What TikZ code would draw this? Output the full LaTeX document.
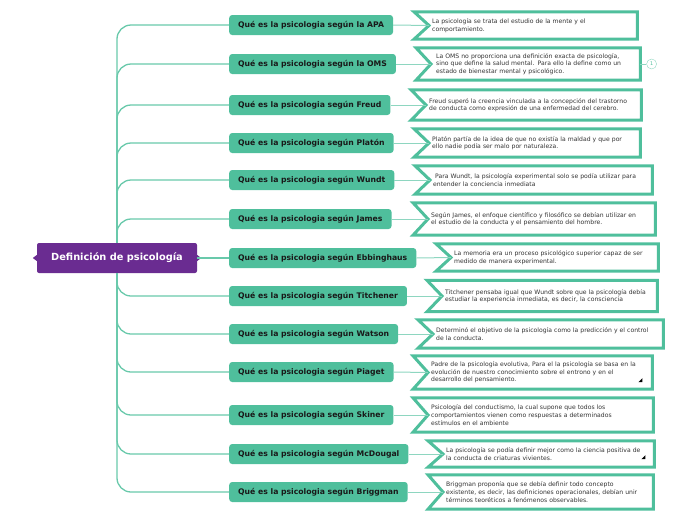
\documentclass[tikz,border=0pt]{standalone}
\usepackage{fontspec}
\setmainfont{DejaVu Sans}
\usetikzlibrary{positioning}

\definecolor{mapteal}{HTML}{4FBF9C}
\definecolor{maplink}{HTML}{8ED6C0}
\definecolor{mappurple}{HTML}{6A2C91}
\definecolor{maptext}{HTML}{333333}

\begin{document}
\begin{tikzpicture}[
    x=1pt, y=-1pt,
    root/.style={
        rectangle,
        rounded corners=2pt,
        fill=mappurple,
        text=white,
        minimum width=160pt,
        minimum height=30pt,
        font=\fontsize{9.8}{11}\selectfont\bfseries
    },
    topic/.style={
        rectangle,
        rounded corners=3pt,
        anchor=west,
        fill=mapteal,
        text=black!90,
        inner xsep=9pt,
        minimum height=20pt,
        font=\fontsize{7.7}{9}\selectfont\bfseries
    },
    desc/.style={
        rectangle,
        anchor=west,
        inner xsep=3pt,
        inner ysep=0pt,
        align=left,
        text=maptext,
        font=\fontsize{6.1}{7.6}\selectfont
    },
    descline/.style={draw=mapteal, line width=3pt},
    branch/.style={draw=mapteal!85, line width=1.3pt, rounded corners=14pt},
    link/.style={draw=maplink, line width=1pt},
    badge/.style={
        circle,
        draw=maplink,
        text=mapteal,
        inner sep=0pt,
        minimum size=10pt,
        font=\fontsize{5}{6}\selectfont
    },
]
\useasboundingbox (0,0) rectangle (696,520);

% nodes
\node[root] (root) at (117,258) {Definición de psicología};

\node[topic] (t1) at (229,25) {Qué es la psicologia según la APA};
\node[topic] (t2) at (229,64) {Qué es la psicologia según la OMS};
\node[topic] (t3) at (229,105) {Qué es la psicologia según Freud};
\node[topic] (t4) at (229,143) {Qué es la psicologia según Platón};
\node[topic] (t5) at (229,180) {Qué es la psicologia según Wundt};
\node[topic] (t6) at (229,219) {Qué es la psicologia según James};
\node[topic] (t7) at (229,258) {Qué es la psicologia según Ebbinghaus};
\node[topic] (t8) at (229,296) {Qué es la psicologia según Titchener};
\node[topic] (t9) at (229,334) {Qué es la psicologia según Watson};
\node[topic] (t10) at (229,372) {Qué es la psicologia según Piaget};
\node[topic] (t11) at (229,415) {Qué es la psicologia según Skiner};
\node[topic] (t12) at (229,454) {Qué es la psicologia según McDougal};
\node[topic] (t13) at (229,492) {Qué es la psicologia según Briggman};

\node[desc, text width=202pt, minimum height=27pt] (d1) at (429,25.5)
    {La psicología se trata del estudio de la mente y el\\comportamiento.};
\node[desc, text width=203pt, minimum height=32pt] (d2) at (431,64)
    {\ La OMS no proporciona una definición exacta de psicología,\\
    \ sino que define la salud mental. Para ello la define como un\\
    \ estado de bienestar mental y psicológico.};
\node[desc, text width=209pt, minimum height=30pt] (d3) at (426,105)
    {Freud superó la creencia vinculada a la concepción del trastorno\\
    de conducta como expresión de una enfermedad del cerebro.};
\node[desc, text width=205pt, minimum height=28pt] (d4) at (429,143)
    {Platón partía de la idea de que no existía la maldad y que por\\
    ello nadie podía ser malo por naturaleza.};
\node[desc, text width=216pt, minimum height=28pt] (d5) at (430,180)
    {\ Para Wundt, la psicología experimental solo se podía utilizar para\\
    entender la conciencia inmediata};
\node[desc, text width=221pt, minimum height=32pt] (d6) at (428,219)
    {Según James, el enfoque científico y filosófico se debían utilizar en\\
    el estudio de la conducta y el pensamiento del hombre.};
\node[desc, text width=201pt, minimum height=27pt] (d7) at (451,257.5)
    {La memoria era un proceso psicológico superior capaz de ser\\
    medido de manera experimental.};
\node[desc, text width=209pt, minimum height=31pt] (d8) at (442,296)
    {Titchener pensaba igual que Wundt sobre que la psicología debía\\
    estudiar la experiencia inmediata, es decir, la consciencia};
\node[desc, text width=224pt, minimum height=28pt] (d9) at (433,334)
    {Determinó el objetivo de la psicología como la predicción y el control\\
    de la conducta.};
\node[desc, text width=218pt, minimum height=33pt] (d10) at (428,372.5)
    {Padre de la psicología evolutiva, Para el la psicología se basa en la\\
    evolución de nuestro conocimiento sobre el entrono y en el\\
    desarrollo del pensamiento.};
\node[desc, text width=219pt, minimum height=34pt] (d11) at (428,415)
    {Psicología del conductismo, la cual supone que todos los\\
    comportamientos vienen como respuestas a determinados\\
    estímulos en el ambiente};
\node[desc, text width=205pt, minimum height=26pt] (d12) at (443,454)
    {La psicología se podía definir mejor como la ciencia positiva de\\
    la conducta de criaturas vivientes.};
\node[desc, text width=204pt, minimum height=34pt] (d13) at (443,492)
    {Briggman proponía que se debía definir todo concepto\\
    existente, es decir, las definiciones operacionales, debían unir\\
    términos teoréticos a fenómenos observables.};

\node[badge, right=6pt of d2] (n2) {1};

% root markers
\fill[mappurple] ([shift={(0,-3)}]root.west) -- ++(-4,3) -- ++(4,3) -- cycle;
\fill[mappurple] ([shift={(0,-3)}]root.east) -- ++(4,3) -- ++(-4,3) -- cycle;

% branches
\foreach \i in {1,...,6}
    \draw[branch] (root.north) |- (t\i.west);
\draw[branch] (root.east) -- (t7.west);
\foreach \i in {8,...,13}
    \draw[branch] (root.south) |- (t\i.west);

% description frames and links
\foreach \i in {1,...,13} {
    \draw[descline] ([xshift=-15pt]d\i.north west) -- (d\i.north east)
        -- (d\i.south east) -- ([xshift=-15pt]d\i.south west)
        -- (d\i.west) -- cycle;
    \draw[link] (t\i.east) -- (d\i.west);
}
\draw[link] (d2.east) -- (n2);

% note markers
\fill[black] ([shift={(-14,-7)}]d10.south east) -- ++(4,0) -- ++(0,-4) -- cycle;
\fill[black] ([shift={(-13,-8)}]d12.south east) -- ++(4,0) -- ++(0,-4) -- cycle;

\end{tikzpicture}
\end{document}
